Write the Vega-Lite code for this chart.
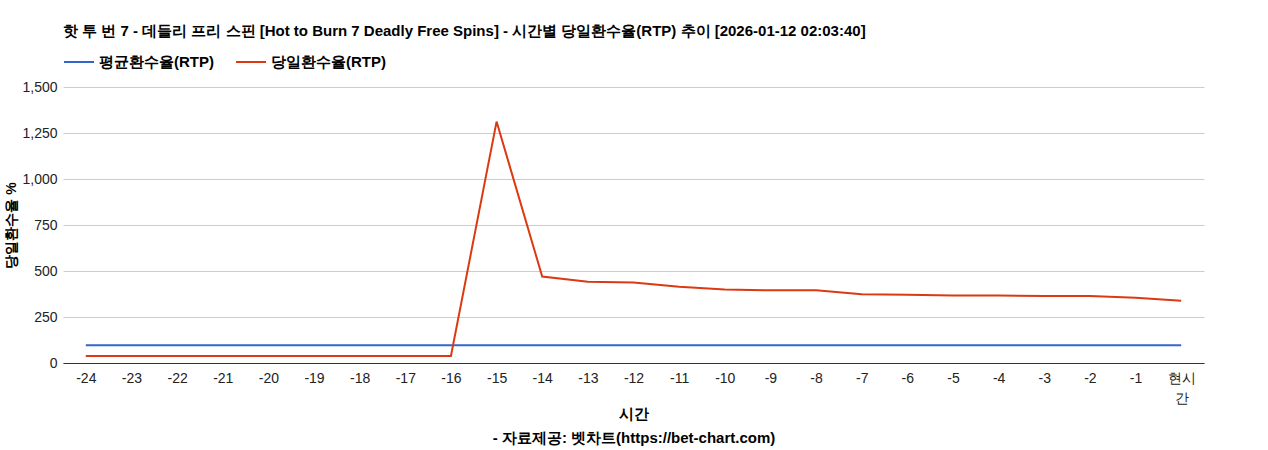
{
  "$schema": "https://vega.github.io/schema/vega-lite/v6.json",
  "autosize": "none",
  "width": 1141,
  "height": 276,
  "padding": {"left": 63, "top": 87, "right": 64, "bottom": 87},
  "background": "white",
  "title": {
    "text": "핫 투 번 7 - 데들리 프리 스핀 [Hot to Burn 7 Deadly Free Spins] - 시간별 당일환수율(RTP) 추이 [2026-01-12 02:03:40]",
    "anchor": "start",
    "frame": "group",
    "font": "Liberation Sans",
    "fontSize": 15,
    "fontWeight": "bold",
    "color": "#000",
    "offset": 7
  },
  "data": {
    "values": [
      {"hour": "-24", "series": "평균환수율(RTP)", "rtp": 96.5},
      {"hour": "-23", "series": "평균환수율(RTP)", "rtp": 96.5},
      {"hour": "-22", "series": "평균환수율(RTP)", "rtp": 96.5},
      {"hour": "-21", "series": "평균환수율(RTP)", "rtp": 96.5},
      {"hour": "-20", "series": "평균환수율(RTP)", "rtp": 96.5},
      {"hour": "-19", "series": "평균환수율(RTP)", "rtp": 96.5},
      {"hour": "-18", "series": "평균환수율(RTP)", "rtp": 96.5},
      {"hour": "-17", "series": "평균환수율(RTP)", "rtp": 96.5},
      {"hour": "-16", "series": "평균환수율(RTP)", "rtp": 96.5},
      {"hour": "-15", "series": "평균환수율(RTP)", "rtp": 96.5},
      {"hour": "-14", "series": "평균환수율(RTP)", "rtp": 96.5},
      {"hour": "-13", "series": "평균환수율(RTP)", "rtp": 96.5},
      {"hour": "-12", "series": "평균환수율(RTP)", "rtp": 96.5},
      {"hour": "-11", "series": "평균환수율(RTP)", "rtp": 96.5},
      {"hour": "-10", "series": "평균환수율(RTP)", "rtp": 96.5},
      {"hour": "-9", "series": "평균환수율(RTP)", "rtp": 96.5},
      {"hour": "-8", "series": "평균환수율(RTP)", "rtp": 96.5},
      {"hour": "-7", "series": "평균환수율(RTP)", "rtp": 96.5},
      {"hour": "-6", "series": "평균환수율(RTP)", "rtp": 96.5},
      {"hour": "-5", "series": "평균환수율(RTP)", "rtp": 96.5},
      {"hour": "-4", "series": "평균환수율(RTP)", "rtp": 96.5},
      {"hour": "-3", "series": "평균환수율(RTP)", "rtp": 96.5},
      {"hour": "-2", "series": "평균환수율(RTP)", "rtp": 96.5},
      {"hour": "-1", "series": "평균환수율(RTP)", "rtp": 96.5},
      {"hour": "현시간", "series": "평균환수율(RTP)", "rtp": 96.5},
      {"hour": "-24", "series": "당일환수율(RTP)", "rtp": 38},
      {"hour": "-23", "series": "당일환수율(RTP)", "rtp": 38},
      {"hour": "-22", "series": "당일환수율(RTP)", "rtp": 38},
      {"hour": "-21", "series": "당일환수율(RTP)", "rtp": 38},
      {"hour": "-20", "series": "당일환수율(RTP)", "rtp": 38},
      {"hour": "-19", "series": "당일환수율(RTP)", "rtp": 38},
      {"hour": "-18", "series": "당일환수율(RTP)", "rtp": 38},
      {"hour": "-17", "series": "당일환수율(RTP)", "rtp": 38},
      {"hour": "-16", "series": "당일환수율(RTP)", "rtp": 38},
      {"hour": "-15", "series": "당일환수율(RTP)", "rtp": 1312},
      {"hour": "-14", "series": "당일환수율(RTP)", "rtp": 470},
      {"hour": "-13", "series": "당일환수율(RTP)", "rtp": 441},
      {"hour": "-12", "series": "당일환수율(RTP)", "rtp": 438},
      {"hour": "-11", "series": "당일환수율(RTP)", "rtp": 415},
      {"hour": "-10", "series": "당일환수율(RTP)", "rtp": 400},
      {"hour": "-9", "series": "당일환수율(RTP)", "rtp": 395},
      {"hour": "-8", "series": "당일환수율(RTP)", "rtp": 395},
      {"hour": "-7", "series": "당일환수율(RTP)", "rtp": 373},
      {"hour": "-6", "series": "당일환수율(RTP)", "rtp": 371},
      {"hour": "-5", "series": "당일환수율(RTP)", "rtp": 367},
      {"hour": "-4", "series": "당일환수율(RTP)", "rtp": 367},
      {"hour": "-3", "series": "당일환수율(RTP)", "rtp": 364},
      {"hour": "-2", "series": "당일환수율(RTP)", "rtp": 364},
      {"hour": "-1", "series": "당일환수율(RTP)", "rtp": 355},
      {"hour": "현시간", "series": "당일환수율(RTP)", "rtp": 338}
    ]
  },
  "mark": {"type": "line", "strokeWidth": 2},
  "encoding": {
    "x": {
      "field": "hour",
      "type": "ordinal",
      "sort": null,
      "scale": {"type": "point", "padding": 0.5},
      "axis": {
        "title": ["시간", "- 자료제공: 벳차트(https://bet-chart.com)"],
        "titleFont": "Liberation Sans",
        "titleFontSize": 15,
        "titleFontWeight": "bold",
        "titleColor": "#000",
        "titleLineHeight": 24,
        "titlePadding": 1,
        "labelAngle": 0,
        "labelFont": "Liberation Sans",
        "labelFontSize": 14,
        "labelColor": "#222",
        "labelPadding": 8,
        "labelLineHeight": 20,
        "labelExpr": "datum.label == '현시간' ? ['현시', '간'] : datum.label",
        "ticks": false,
        "domainColor": "#333",
        "grid": false
      }
    },
    "y": {
      "field": "rtp",
      "type": "quantitative",
      "scale": {"domain": [0, 1500], "nice": false},
      "axis": {
        "title": "당일환수율 %",
        "titleFont": "Liberation Sans",
        "titleFontSize": 14,
        "titleFontWeight": "bold",
        "titleColor": "#000",
        "titlePadding": 3,
        "values": [0, 250, 500, 750, 1000, 1250, 1500],
        "format": ",.0f",
        "labelFont": "Liberation Sans",
        "labelFontSize": 14,
        "labelColor": "#222",
        "labelPadding": 6,
        "ticks": false,
        "domain": false,
        "gridColor": "#cccccc"
      }
    },
    "color": {
      "field": "series",
      "type": "nominal",
      "scale": {
        "domain": ["평균환수율(RTP)", "당일환수율(RTP)"],
        "range": ["#3366cc", "#dc3912"]
      },
      "legend": {
        "title": null,
        "orient": "none",
        "legendX": 0,
        "legendY": -41,
        "direction": "horizontal",
        "symbolType": "stroke",
        "symbolSize": 900,
        "symbolStrokeWidth": 2,
        "labelFont": "Liberation Sans",
        "labelFontSize": 15,
        "labelFontWeight": "bold",
        "labelColor": "#000",
        "columnPadding": 18,
        "labelOffset": 4
      }
    }
  },
  "config": {"view": {"stroke": null}}
}
